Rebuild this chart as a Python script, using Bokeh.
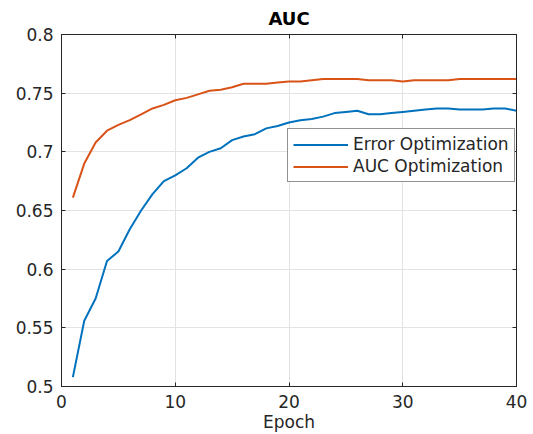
from bokeh.plotting import figure
from bokeh.models import (LinearAxis, Legend, LegendItem, FixedTicker, Range1d,
                          CustomJSTickFormatter, CustomLabelingPolicy)
from bokeh.embed import file_html
from bokeh.resources import INLINE

epochs = list(range(1, 41))
error_opt = [0.508, 0.556, 0.575, 0.607, 0.615, 0.634, 0.650, 0.664, 0.675, 0.680,
             0.686, 0.695, 0.700, 0.703, 0.710, 0.713, 0.715, 0.720, 0.722, 0.725,
             0.727, 0.728, 0.730, 0.733, 0.734, 0.735, 0.732, 0.732, 0.733, 0.734,
             0.735, 0.736, 0.737, 0.737, 0.736, 0.736, 0.736, 0.737, 0.737, 0.735]
auc_opt = [0.661, 0.690, 0.708, 0.718, 0.723, 0.727, 0.732, 0.737, 0.740, 0.744,
           0.746, 0.749, 0.752, 0.753, 0.755, 0.758, 0.758, 0.758, 0.759, 0.760,
           0.760, 0.761, 0.762, 0.762, 0.762, 0.762, 0.761, 0.761, 0.761, 0.760,
           0.761, 0.761, 0.761, 0.761, 0.762, 0.762, 0.762, 0.762, 0.762, 0.762]
x_ticks = [0, 10, 20, 30, 40]
y_ticks = [0.5, 0.55, 0.6, 0.65, 0.7, 0.75, 0.8]

TXT = "#262626"
FONT = "DejaVu Sans"
FS = "17px"

p = figure(width=533, height=434, output_backend="svg", toolbar_location=None,
           x_range=Range1d(0, 40), y_range=Range1d(0.5, 0.8),
           x_axis_label="Epoch", title="AUC",
           min_border_left=61, min_border_right=17, min_border_top=34, min_border_bottom=48)

p.title.align = "center"
p.title.text_font = FONT
p.title.text_font_size = "18px"
p.title.text_font_style = "bold"
p.title.text_color = "black"
p.title.standoff = 4

p.outline_line_color = TXT
p.outline_line_width = 1
p.background_fill_color = "white"
p.border_fill_color = "white"

p.xgrid.ticker = FixedTicker(ticks=x_ticks)
p.ygrid.ticker = FixedTicker(ticks=y_ticks)
p.grid.grid_line_color = "#e3e3e3"
p.grid.grid_line_width = 1

for ax in p.xaxis:
    ax.ticker = FixedTicker(ticks=x_ticks)
for ax in p.yaxis:
    ax.ticker = FixedTicker(ticks=y_ticks)
    ax.formatter = CustomJSTickFormatter(code="return (Math.round(tick*100)/100).toString();")

for ax in list(p.xaxis) + list(p.yaxis):
    ax.axis_line_color = TXT
    ax.major_tick_line_color = TXT
    ax.major_tick_in = 4
    ax.major_tick_out = 0
    ax.minor_tick_line_color = None
    ax.major_label_text_font = FONT
    ax.major_label_text_font_size = FS
    ax.major_label_text_color = TXT
    ax.axis_label_text_font = FONT
    ax.axis_label_text_font_size = FS
    ax.axis_label_text_font_style = "normal"
    ax.axis_label_text_color = TXT
p.yaxis.major_label_standoff = 8
p.xaxis.major_label_standoff = 8
p.xaxis.axis_label_standoff = 1

# mirror axes (ticks only) on top and right
def mirror(ticks):
    return LinearAxis(ticker=FixedTicker(ticks=ticks),
                      major_label_policy=CustomLabelingPolicy(code="return new Set()"),
                      major_label_text_font_size="1px",
                      major_tick_in=4, major_tick_out=0, minor_tick_line_color=None,
                      axis_line_color=TXT, major_tick_line_color=TXT, major_label_standoff=0)

p.add_layout(mirror(x_ticks), "above")
p.add_layout(mirror(y_ticks), "right")

r1 = p.line(epochs, error_opt, line_color="#0072BD", line_width=2)
r2 = p.line(epochs, auc_opt, line_color="#D95319", line_width=2)

legend = Legend(items=[LegendItem(label="Error Optimization", renderers=[r1]),
                       LegendItem(label="AUC Optimization", renderers=[r2])],
                location=(226, 204), orientation="vertical")
legend.label_text_font = FONT
legend.label_text_font_size = FS
legend.label_text_color = TXT
legend.glyph_width = 55
legend.glyph_height = 17
legend.label_height = 17
legend.label_standoff = 5
legend.spacing = 2
legend.padding = 5
legend.margin = 0
legend.border_line_color = TXT
legend.border_line_width = 1
legend.background_fill_color = "white"
legend.background_fill_alpha = 1
p.add_layout(legend, "center")

open("out.html", "w").write(file_html(p, INLINE))
